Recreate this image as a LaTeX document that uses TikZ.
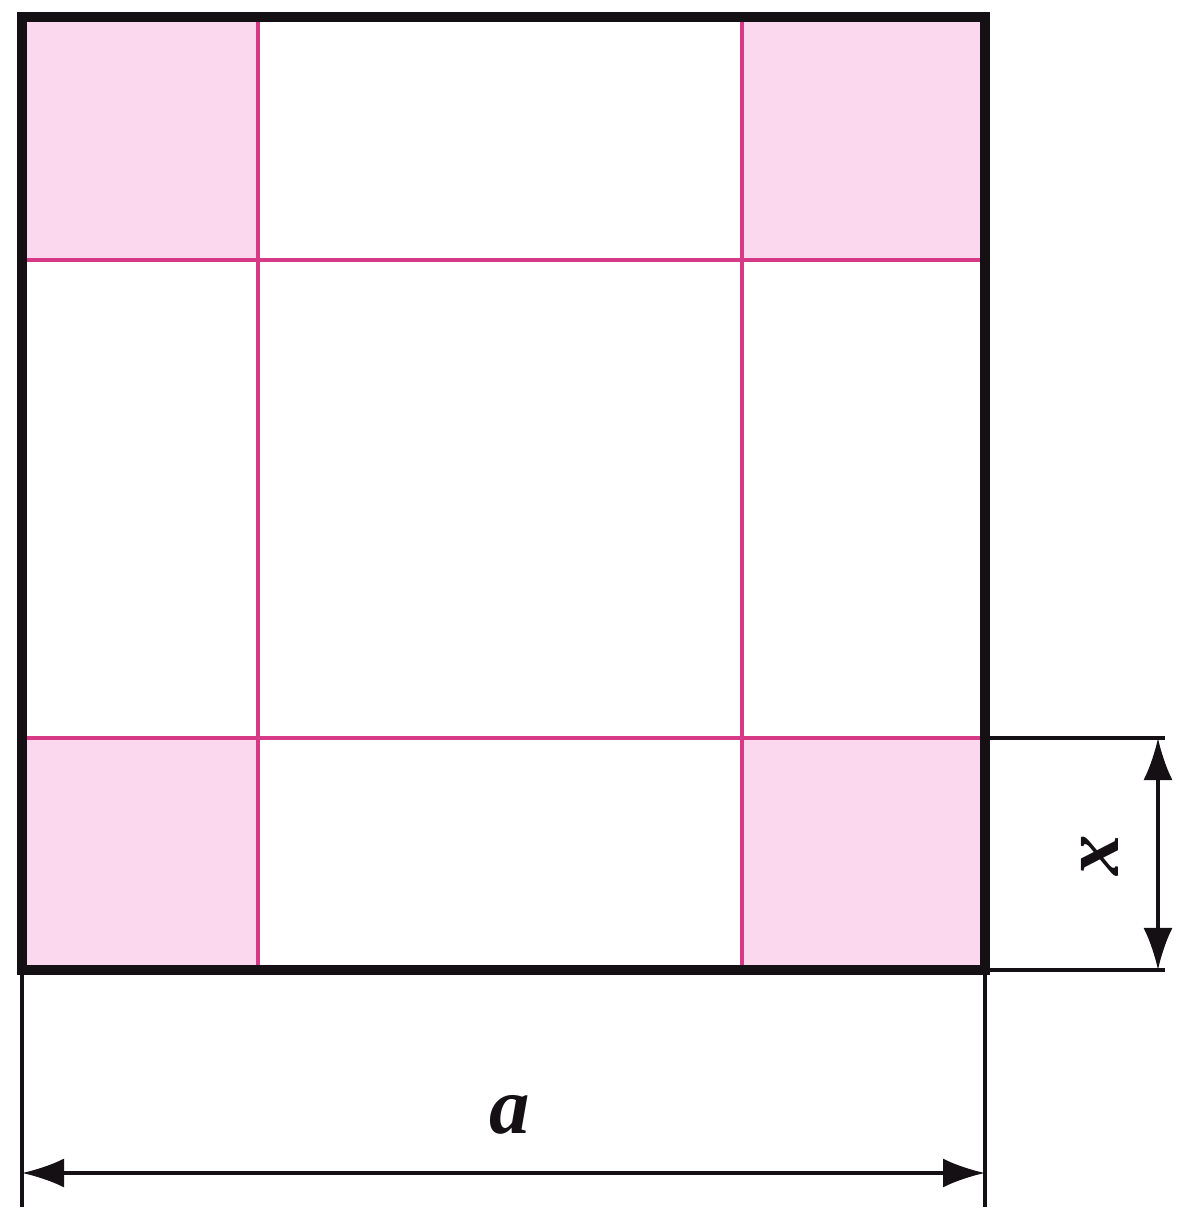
\documentclass[tikz,border=0pt]{standalone}
\usepackage{fontspec}
\setmainfont{Liberation Serif}
\usetikzlibrary{arrows.meta}
\definecolor{ink}{HTML}{141014}
\definecolor{rose}{HTML}{D63A86}
\definecolor{blush}{HTML}{FBD8EE}
\tikzset{
  frame/.style={draw=ink, line width=2.9pt, line cap=rect},
  grid/.style={draw=rose, line width=1.4pt},
  corner/.style={fill=blush},
  extline/.style={draw=ink, line width=1pt},
  dimarr/.style={{Latex[length=4.2mm,width=2.9mm]}-{Latex[length=4.2mm,width=2.9mm]}, draw=ink, line width=1pt},
  dimlabel/.style={font=\fontsize{23}{25}\selectfont\bfseries\itshape, text=ink}
}
\begin{document}
\begin{tikzpicture}
  \useasboundingbox (0,0) rectangle (11.77,12.14);
  % corner squares
  \fill[corner] (0.22,9.54) rectangle (2.58,11.97);
  \fill[corner] (7.42,9.54) rectangle (9.85,11.97);
  \fill[corner] (0.22,2.44) rectangle (2.58,4.76);
  \fill[corner] (7.42,2.44) rectangle (9.85,4.76);
  % cut lines
  \draw[grid] (2.58,2.44) -- (2.58,11.97);
  \draw[grid] (7.42,2.44) -- (7.42,11.97);
  \draw[grid] (0.22,9.54) -- (9.85,9.54);
  \draw[grid] (0.22,4.76) -- (9.85,4.76);
  % sheet
  \draw[frame] (0.22,2.44) rectangle (9.85,11.97);
  % dimension x
  \coordinate (xt) at (11.58,4.76);
  \coordinate (xb) at (11.58,2.44);
  \draw[extline] (9.85,4.76) -- (11.65,4.76);
  \draw[extline] (9.85,2.44) -- (11.65,2.44);
  \draw[dimarr] (xt) -- (xb);
  \node[dimlabel, rotate=90] (xlab) at (11.00,3.59) {x};
  % dimension a
  \coordinate (al) at (0.22,0.41);
  \coordinate (ar) at (9.85,0.41);
  \draw[extline] (0.22,2.44) -- (0.22,0.07);
  \draw[extline] (9.85,2.44) -- (9.85,0.07);
  \draw[dimarr] (al) -- (ar);
  \node[dimlabel] (alab) at (5.10,0.99) {a};
\end{tikzpicture}
\end{document}
